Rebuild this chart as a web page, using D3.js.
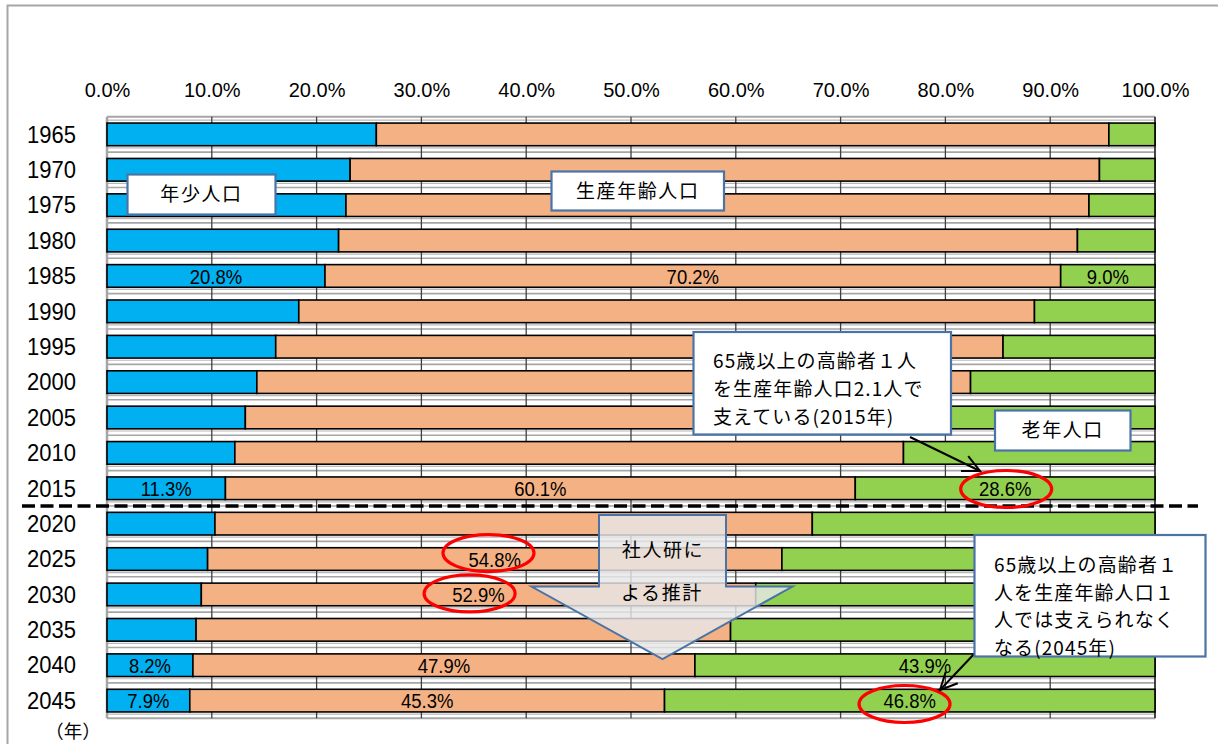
<!DOCTYPE html>
<html><head><meta charset="utf-8">
<script src="https://cdn.jsdelivr.net/npm/d3@7"></script>
<style>
body{margin:0;background:#fff}
svg{display:block}
.num{font-family:"Liberation Sans",Arial,sans-serif;}
.jp{font-family:"Noto Sans CJK JP","Noto Sans CJK SC",sans-serif;}
</style>
</head><body>
<svg id="chart" width="1218" height="744"></svg>
<script>
// ---------- data ----------
const years   = [1965,1970,1975,1980,1985,1990,1995,2000,2005,2010,2015,2020,2025,2030,2035,2040,2045];
const youth   = [25.7,23.2,22.8,22.1,20.8,18.3,16.1,14.3,13.2,12.2,11.3,10.3, 9.6, 9.0, 8.5, 8.2, 7.9];
const working = [69.9,71.5,70.9,70.5,70.2,70.2,69.4,68.1,66.7,63.8,60.1,57.0,54.8,52.9,51.0,47.9,45.3];
const elderly = [ 4.4, 5.3, 6.3, 7.4, 9.0,11.5,14.5,17.6,20.1,24.0,28.6,32.7,35.6,38.1,40.5,43.9,46.8];
const seriesKeys   = ["youth","working","elderly"];
const seriesColors = ["#00B0F0","#F4B183","#92D050"];
const xTicks = [0,10,20,30,40,50,60,70,80,90,100];
const labelAllYears = [1985,2015,2040,2045];
const labelWorkingYears = [2025,2030];
const splitAfterYear = 2015;

// ---------- layout ----------
const svg = d3.select("#chart");
const W = 1218, H = 744;
const plot = {left:107, right:1155, top:116.7, bottom:718.3};

const x = d3.scaleLinear().domain([0,100]).range([plot.left, plot.right]);
const y = d3.scaleBand().domain(years).range([plot.top, plot.bottom]).paddingInner(0.36).paddingOuter(0.18);
const step = y.step();

const table = years.map((yr,i)=>({year:yr, youth:youth[i], working:working[i], elderly:elderly[i]}));
const stacked = d3.stack().keys(seriesKeys)(table);

// stretch text around its anchor point
function stretch(sel, sx, sy){
  sel.each(function(){
    const t = d3.select(this);
    const xv = +(t.attr("x")||0), yv = +(t.attr("y")||0);
    t.attr("x",0).attr("y",0).attr("transform", `translate(${xv},${yv}) scale(${sx},${sy})`);
  });
}

// outer frame
svg.append("path").attr("d", `M7.5,${H} L7.5,5.5 L${W},5.5`).attr("fill","none").attr("stroke","#a6a6a6").attr("stroke-width",2);

// background gap stripes
const bg = svg.append("g");
for (let i=0;i<=years.length;i++){
  const yy = plot.top + i*step;
  bg.append("line").attr("x1",plot.left).attr("x2",plot.right).attr("y1",yy).attr("y2",yy)
    .attr("stroke","#a6a6a6").attr("stroke-width",i===0||i===years.length?2:1.6);
}
years.forEach(yr=>{
  const yy = y(yr)+y.bandwidth()+2.2;
  bg.append("line").attr("x1",plot.left).attr("x2",plot.right).attr("y1",yy).attr("y2",yy)
    .attr("stroke","#b8b8b8").attr("stroke-width",1.2);
});
bg.append("line").attr("x1",plot.left).attr("x2",plot.right).attr("y1",plot.top+3.4).attr("y2",plot.top+3.4)
  .attr("stroke","#b8b8b8").attr("stroke-width",1.2);

// vertical gridlines
svg.append("g").selectAll("line").data(xTicks.slice(1)).join("line")
  .attr("x1",d=>x(d)).attr("x2",d=>x(d)).attr("y1",plot.top).attr("y2",plot.bottom)
  .attr("stroke",d=>d===100?"#303030":"#404040").attr("stroke-width",d=>d===100?1.8:1.3);
// left axis line
svg.append("line").attr("x1",plot.left).attr("x2",plot.left).attr("y1",plot.top).attr("y2",plot.bottom)
  .attr("stroke","#a6a6a6").attr("stroke-width",2.5);

// bars
const barG = svg.append("g");
stacked.forEach((s,si)=>{
  barG.append("g").selectAll("rect").data(s).join("rect")
    .attr("x",d=>x(d[0])).attr("width",d=>x(d[1])-x(d[0]))
    .attr("y",d=>y(d.data.year)).attr("height",y.bandwidth())
    .attr("fill",seriesColors[si]).attr("stroke","#000").attr("stroke-width",1.6);
});

// axes
const xAxis = svg.append("g").attr("transform",`translate(0,${plot.top})`)
  .call(d3.axisTop(x).tickValues(xTicks).tickSize(0).tickPadding(20).tickFormat(d=>d.toFixed(1)+"%"));
xAxis.select(".domain").remove();
xAxis.selectAll("text").attr("class","num").attr("font-size",20).attr("fill","#000").call(stretch,1,1.05);

const yAxis = svg.append("g").attr("transform",`translate(${plot.left},0)`)
  .call(d3.axisLeft(y).tickSize(0).tickPadding(31));
yAxis.select(".domain").remove();
yAxis.selectAll("text").attr("class","num").attr("font-size",22).attr("dy","0.34em").attr("fill","#000").call(stretch,1,1.1);

svg.append("text").attr("class","jp").attr("x",73).attr("y",738).attr("text-anchor","middle")
  .attr("font-size",18.5).text("（年）");

// split dashed line
const splitY = y(splitAfterYear)+y.bandwidth()+ (step-y.bandwidth())/2;
svg.append("line").attr("x1",22).attr("x2",1198).attr("y1",splitY).attr("y2",splitY)
  .attr("stroke","#000").attr("stroke-width",3.6).attr("stroke-dasharray","13,5.5");

// value labels
const labG = svg.append("g");
stacked.forEach((s,si)=>{
  s.forEach(d=>{
    const yr = d.data.year;
    const show = labelAllYears.includes(yr) || (labelWorkingYears.includes(yr) && seriesKeys[si]==="working");
    if(!show) return;
    labG.append("text").attr("class","num").attr("font-size",18.5)
      .attr("x",x((d[0]+d[1])/2)).attr("y",y(yr)+y.bandwidth()/2).attr("dy","0.36em")
      .attr("text-anchor","middle").attr("fill","#000")
      .text((d[1]-d[0]).toFixed(1)+"%");
  });
});
labG.selectAll("text").call(stretch,1,1.14);

// red ellipses (pct center, year, dy offset)
const ellipses = [
  {pct:85.8, year:2015, dy:0.7},
  {pct:36.4, year:2025, dy:-6},
  {pct:34.6, year:2030, dy:-1},
  {pct:76.1, year:2045, dy:3.4}
];
svg.append("g").selectAll("ellipse").data(ellipses).join("ellipse")
  .attr("cx",d=>x(d.pct)).attr("cy",d=>y(d.year)+y.bandwidth()/2+d.dy)
  .attr("rx",45.5).attr("ry",18.5).attr("fill","none").attr("stroke","#FF0000").attr("stroke-width",3.2);

// simple label boxes
const boxStroke = "#4A74A8";
function labelBox(x0,y0,x1,y1,txt){
  svg.append("rect").attr("x",x0).attr("y",y0).attr("width",x1-x0).attr("height",y1-y0)
    .attr("fill","#fff").attr("stroke",boxStroke).attr("stroke-width",2.2);
  svg.append("text").attr("class","jp").attr("x",(x0+x1)/2).attr("y",(y0+y1)/2).attr("dy","0.36em")
    .attr("text-anchor","middle").attr("font-size",19).attr("letter-spacing",1.6).text(txt);
}
labelBox(127.5,174.5,275.5,214.5,"年少人口");
labelBox(551.5,171.5,724,210.5,"生産年齢人口");
labelBox(995,410.5,1130.5,450.5,"老年人口");

// callouts
function callout(x0,y0,x1,y1,lines,tx,ty,lh){
  svg.append("rect").attr("x",x0).attr("y",y0).attr("width",x1-x0).attr("height",y1-y0)
    .attr("fill","#fff").attr("stroke",boxStroke).attr("stroke-width",2.2);
  const t = svg.append("text").attr("class","jp").attr("font-size",19).attr("letter-spacing",1.1);
  lines.forEach((l,i)=>t.append("tspan").attr("x",tx).attr("y",ty+i*lh).text(l));
}
function arrowLine(x1,y1,x2,y2){
  svg.append("line").attr("x1",x1).attr("y1",y1).attr("x2",x2).attr("y2",y2).attr("stroke","#000").attr("stroke-width",2);
  const a = Math.atan2(y2-y1,x2-x1), L=19, sp=0.45;
  const p1=[x2-L*Math.cos(a-sp), y2-L*Math.sin(a-sp)], p2=[x2-L*Math.cos(a+sp), y2-L*Math.sin(a+sp)];
  svg.append("path").attr("d",`M${p1[0]},${p1[1]} L${x2},${y2} L${p2[0]},${p2[1]}`)
    .attr("fill","none").attr("stroke","#000").attr("stroke-width",2);
}
arrowLine(910,437,980,471);
callout(693.5,332,951,434.5,["65歳以上の高齢者１人","を生産年齢人口2.1人で","支えている(2015年)"],713,368,28);
arrowLine(975,653,940,690);
callout(974.5,535,1205.5,656.5,["65歳以上の高齢者１","人を生産年齢人口１","人では支えられなく","なる(2045年)"],994,572,27.5);

// down arrow (projection)
const arrowPts = [[599,515],[726,515],[726,586.5],[792.5,586.5],[662.5,659],[531.5,586.5],[599,586.5]];
svg.append("path").attr("d","M"+arrowPts.map(p=>p.join(",")).join("L")+"Z")
  .attr("fill","#E7E6E6").attr("fill-opacity",0.82).attr("stroke","#4A74A8").attr("stroke-width",2);
svg.append("text").attr("class","jp").attr("x",663).attr("y",550).attr("dy","0.36em").attr("text-anchor","middle")
  .attr("font-size",19).attr("letter-spacing",1.6).text("社人研に");
svg.append("text").attr("class","jp").attr("x",662).attr("y",593).attr("dy","0.36em").attr("text-anchor","middle")
  .attr("font-size",19).attr("letter-spacing",1.6).text("よる推計");
</script>
</body></html>
